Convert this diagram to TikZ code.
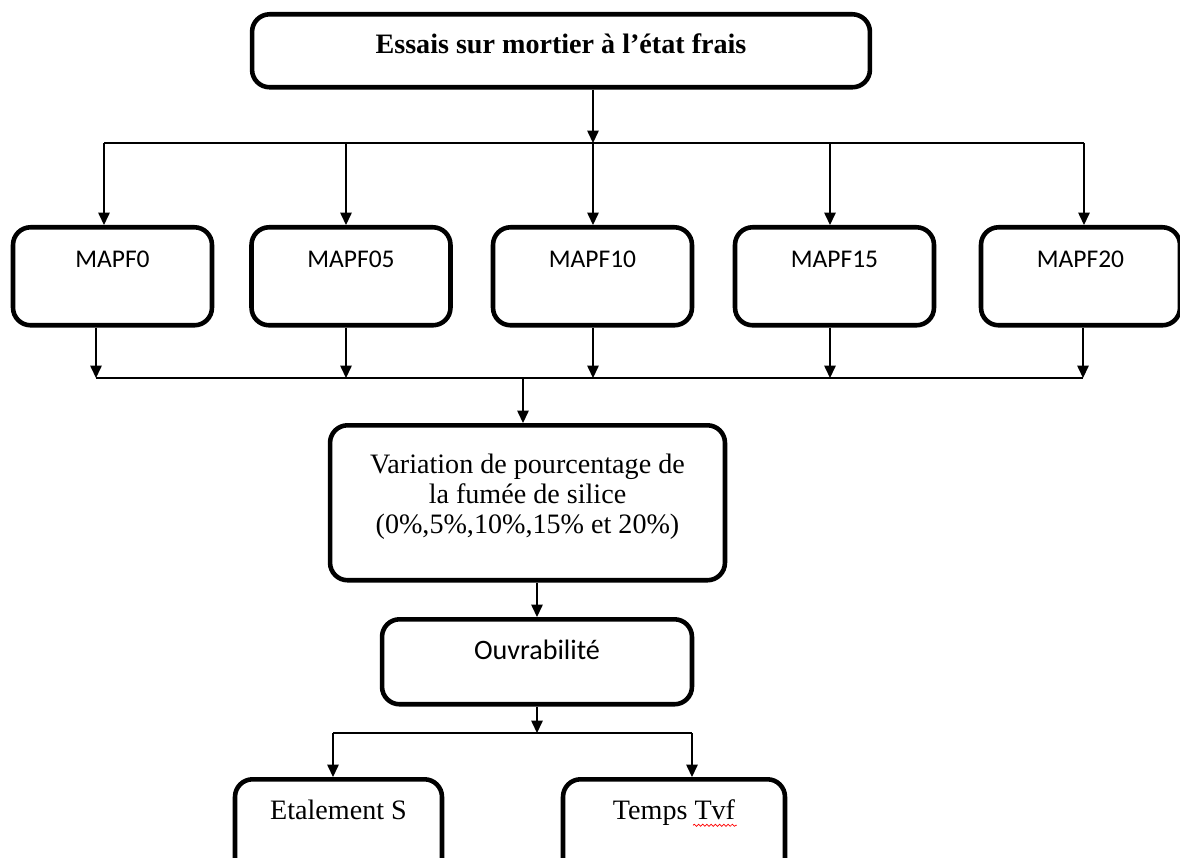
\documentclass[tikz,border=0pt]{standalone}
\usepackage{fontspec}
\setmainfont{Liberation Serif}
\newfontfamily\calibri{Carlito}
\usetikzlibrary{arrows.meta, decorations.pathmorphing}

\begin{document}
\begin{tikzpicture}[x=0.02cm, y=-0.02cm,
    boite/.style={draw, line width=2.6pt, rounded corners=10pt, anchor=north, inner ysep=0pt, align=center},
    times/.style={font=\fontsize{16}{17}\selectfont},
    cali/.style={font=\calibri\fontsize{14.5}{17}\selectfont},
    mapf/.style={boite, cali, minimum width=3.98cm, text height=0.8cm, text depth=1.16cm},
    fleche/.style={-{Triangle[length=7pt,width=6.5pt]}, line width=0.7pt},
    trait/.style={line width=0.7pt},
    ondule/.style={red, line width=0.4pt, decorate, decoration={snake, amplitude=0.6pt, segment length=2.4pt}}]
    \clip (0,0) rectangle (1180,858);

    % boites
    \node[boite, minimum width=12.36cm, text height=0.78cm, text depth=0.68cm,
          font=\bfseries\fontsize{16}{17}\selectfont] (titre) at (561,12) {Essais sur mortier à l’état frais};
    \node[mapf] (m0) at (112.5,225) {MAPF0};
    \node[mapf] (m05) at (351,225) {MAPF05};
    \node[mapf] (m10) at (592.5,225) {MAPF10};
    \node[mapf] (m15) at (834.5,225) {MAPF15};
    \node[mapf] (m20) at (1080.5,225) {MAPF20};
    \node[boite, times, minimum width=7.9cm, minimum height=3.1cm] (var) at (527.5,423)
        {Variation de pourcentage de\\la fumée de silice\\(0\%,5\%,10\%,15\% et 20\%)\\[-7pt]};
    \node[boite, font=\calibri\fontsize{16}{18}\selectfont, minimum width=6.2cm, text height=0.8cm, text depth=0.9cm] (ouv) at (537,617) {Ouvrabilité};
    \node[boite, times, minimum width=4.14cm, text height=0.8cm, text depth=1.4cm] (eta) at (338.5,777) {Etalement S};
    \node[boite, times, minimum width=4.44cm, text height=0.8cm, text depth=1.4cm] (tvf) at (674,777) {Temps Tvf};
    % trait rouge sous Tvf
    \draw[ondule] ([shift={(0.38cm,-0.12cm)}]tvf.base) -- ([shift={(1.26cm,-0.12cm)}]tvf.base);

    % repartition vers les melanges
    \coordinate (ha) at (104,143);
    \coordinate (hb) at (346,143);
    \coordinate (hc) at (593,143);
    \coordinate (hd) at (830,143);
    \coordinate (he) at (1084,143);
    \draw[fleche] (titre.south -| hc) -- (hc);
    \draw[trait] (ha) -- (he);
    \draw[fleche] (ha) -- (ha |- m0.north);
    \draw[fleche] (hb) -- (hb |- m05.north);
    \draw[fleche] (hc) -- (hc |- m10.north);
    \draw[fleche] (hd) -- (hd |- m15.north);
    \draw[fleche] (he) -- (he |- m20.north);

    % regroupement
    \coordinate (ba) at (96,378);
    \coordinate (bb) at (346,378);
    \coordinate (bc) at (593,378);
    \coordinate (bd) at (830,378);
    \coordinate (be) at (1083,378);
    \coordinate (bv) at (523,378);
    \draw[fleche] (m0.south -| ba) -- (ba);
    \draw[fleche] (m05.south -| bb) -- (bb);
    \draw[fleche] (m10.south -| bc) -- (bc);
    \draw[fleche] (m15.south -| bd) -- (bd);
    \draw[fleche] (m20.south -| be) -- (be);
    \draw[trait] (ba) -- (be);
    \draw[fleche] (bv) -- (bv |- var.north);

    % essais
    \draw[fleche] (var.south -| ouv) -- (ouv.north);
    \coordinate (s) at (537,733);
    \coordinate (sa) at (333,733);
    \coordinate (sb) at (692,733);
    \draw[fleche] (ouv.south) -- (s);
    \draw[trait] (sa) -- (sb);
    \draw[fleche] (sa) -- (sa |- eta.north);
    \draw[fleche] (sb) -- (sb |- tvf.north);
\end{tikzpicture}
\end{document}
